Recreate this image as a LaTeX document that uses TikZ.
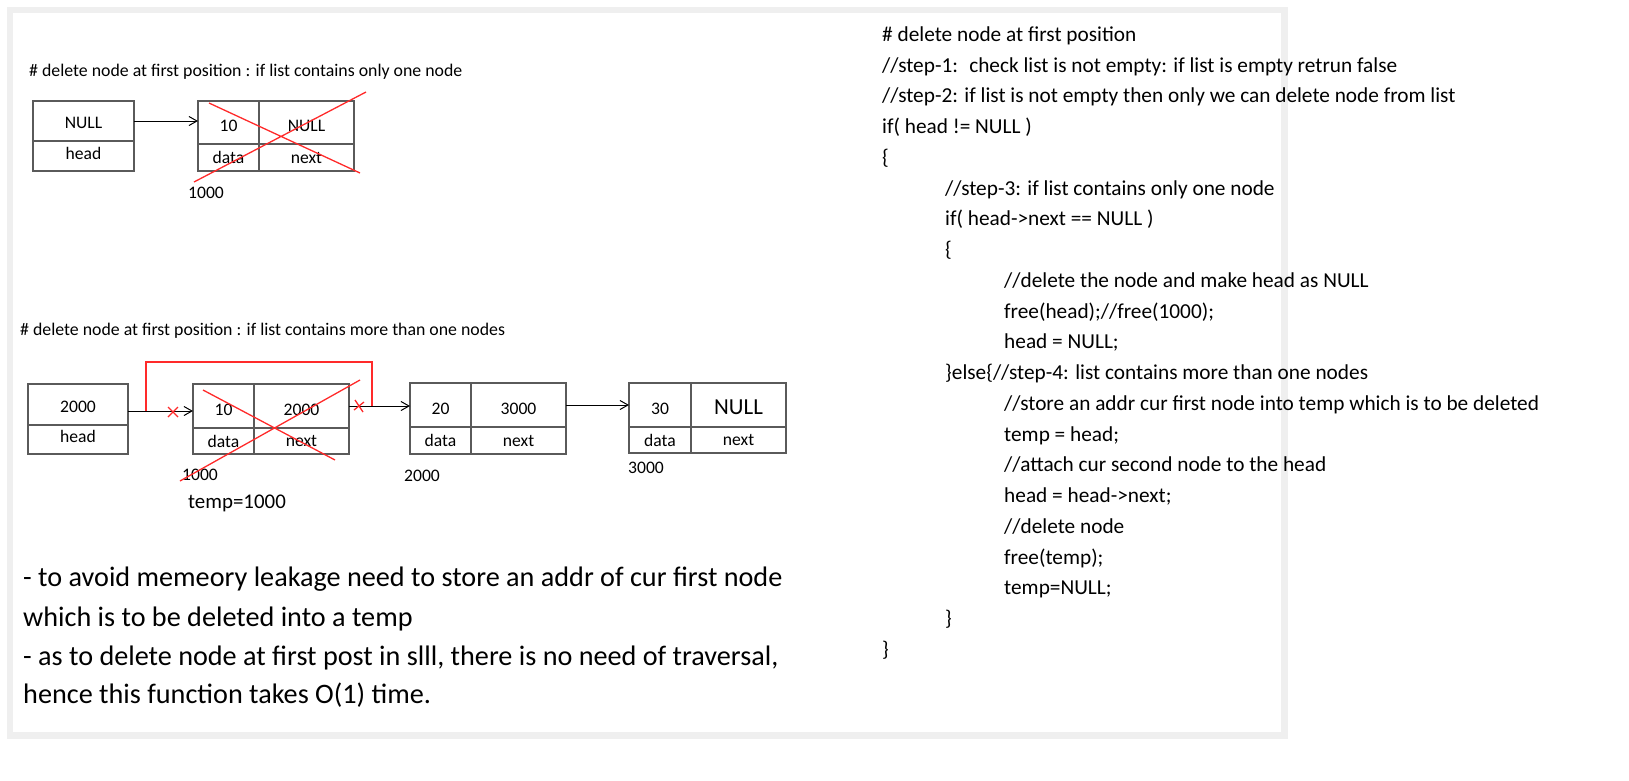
\documentclass[tikz,border=0pt]{standalone}
\usepackage{fontspec}
\setmainfont{Carlito}
\usetikzlibrary{positioning}
\usetikzlibrary{arrows.meta}
\definecolor{framegray}{HTML}{EFEFEF}
\definecolor{boxgray}{HTML}{5A5A5A}
\definecolor{crossred}{HTML}{FF2A2A}

\begin{document}
\begin{tikzpicture}[x=1pt,y=-1pt,
  cell/.style={draw=boxgray,line width=1.3pt,inner sep=0pt,outer sep=0pt,text=black,font=\fontsize{17.6}{20}\selectfont},
  value/.style={text height=18.5pt,text depth=0pt},
  headval/.style={text height=15.5pt,text depth=0pt},
  headlbl/.style={text depth=6pt},
  small/.style={inner sep=0pt,text=black,anchor=base,font=\fontsize{17.6}{20}\selectfont},
  title/.style={inner sep=0pt,text=black,anchor=base west,font=\fontsize{17.8}{20}\selectfont},
  code/.style={inner sep=0pt,text=black,anchor=base west,font=\fontsize{21.3}{24}\selectfont},
  note/.style={inner sep=0pt,text=black,anchor=base west,font=\fontsize{28.2}{32}\selectfont},
  link/.style={black,line width=1pt,-{Straight Barb[length=8pt,width=9pt]}},
  strike/.style={crossred,line width=1.3pt},
  bypass/.style={crossred,line width=2.2pt}]
\useasboundingbox (0,0) rectangle (1629,780);
\draw[framegray,line width=6.5pt] (10,10) rectangle (1284.5,735.5);

% list with one node
\node[title] (title1) at (29,76.7) {\# delete node at first position : if list contains only one node};
\node[cell,headval,minimum width=101pt,minimum height=40pt] (head1) at (83.5,121) {NULL};
\node[cell,headlbl,minimum width=101pt,minimum height=30pt,below=0pt of head1] (hlbl1) {head};
\node[cell,value,minimum width=61pt,minimum height=43pt] (val1) at (228.5,122.5) {10};
\node[cell,value,minimum width=95pt,minimum height=43pt,right=0pt of val1] (nxt1) {NULL};
\node[cell,minimum width=61pt,minimum height=27pt,below=0pt of val1] (dlbl1) {data};
\node[cell,minimum width=95pt,minimum height=27pt,below=0pt of nxt1] (nlbl1) {next};
\node[small] (addr1) at (206,198.6) {1000};
\draw[link] (head1.east) -- (head1.east -| val1.west);
\draw[strike] (209,103) -- (360,173) (194,182) -- (366,92);

% list with more than one node
\node[title] (title2) at (20,335.7) {\# delete node at first position : if list contains more than one nodes};
\node[cell,headval,minimum width=100pt,minimum height=41pt] (head2) at (78,404.5) {2000};
\node[cell,headlbl,minimum width=100pt,minimum height=29pt,below=0pt of head2] (hlbl2) {head};
\node[cell,value,minimum width=61pt,minimum height=44pt] (val2) at (223.5,406) {10};
\node[cell,value,minimum width=95pt,minimum height=44pt,right=0pt of val2] (nxt2) {2000};
\node[cell,minimum width=61pt,minimum height=26pt,below=0pt of val2] (dlbl2) {data};
\node[cell,minimum width=95pt,minimum height=26pt,below=0pt of nxt2] (nlbl2) {next};
\node[cell,value,minimum width=61pt,minimum height=44pt] (val3) at (440.5,405) {20};
\node[cell,value,minimum width=95pt,minimum height=44pt,right=0pt of val3] (nxt3) {3000};
\node[cell,minimum width=61pt,minimum height=27pt,below=0pt of val3] (dlbl3) {data};
\node[cell,minimum width=95pt,minimum height=27pt,below=0pt of nxt3] (nlbl3) {next};
\node[cell,value,minimum width=62pt,minimum height=44pt] (val4) at (660,405) {30};
\node[cell,value,minimum width=95pt,minimum height=44pt,right=0pt of val4,font=\fontsize{22.9}{26}\selectfont] (nxt4) {NULL};
\node[cell,minimum width=62pt,minimum height=26pt,below=0pt of val4] (dlbl4) {data};
\node[cell,minimum width=95pt,minimum height=26pt,below=0pt of nxt4] (nlbl4) {next};
\node[small] (addr2) at (200,480.6) {1000};
\node[small] (addr3) at (422,481.6) {2000};
\node[small] (addr4) at (646,473.6) {3000};
\node[small,font=\fontsize{20.9}{24}\selectfont] (temp) at (237,508.7) {temp=1000};
\draw[link] ([yshift=-6.5pt]head2.east) -- ([yshift=-6.5pt]head2.east -| val2.west);
\draw[link] (nxt2.east) -- (nxt2.east -| val3.west);
\draw[link] (nxt3.east) -- (nxt3.east -| val4.west);
\coordinate (cut1) at ([xshift=18pt,yshift=-6.5pt]head2.east);
\coordinate (cut2) at ([xshift=23pt]nxt2.east);
\draw[bypass] (cut1) -- ++(0,-49) -| (cut2);
\draw[strike] (168,407) -- (178,417) (168,417) -- (178,407);
\draw[strike] (355,400) -- (363,412) (354,410) -- (364,402);
\draw[strike] (203,390) -- (335,460) (180,481) -- (360,380);

% notes
\node[note] (note1) at (23,586) {- to avoid memeory leakage need to store an addr of cur first node};
\node[note] (note2) at (23,626) {which is to be deleted into a temp};
\node[note] (note3) at (23,665) {- as to delete node at first post in slll, there is no need of traversal,};
\node[note] (note4) at (23,703) {hence this function takes O(1) time.};

% code
\node[code] (code0) at (882,41.3) {\# delete node at first position};
\node[code] (code1) at (882,72.1) {//step-1: \ check list is not empty: if list is empty retrun false};
\node[code] (code2) at (882,102.8) {//step-2: if list is not empty then only we can delete node from list};
\node[code] (code3) at (882,133.6) {if( head != NULL )};
\node[code] (code4) at (882,164.3) {\{};
\node[code] (code5) at (945,195.1) {//step-3: if list contains only one node};
\node[code] (code6) at (945,225.8) {if( head->next == NULL )};
\node[code] (code7) at (945,256.6) {\{};
\node[code] (code8) at (1004,287.3) {//delete the node and make head as NULL};
\node[code] (code9) at (1004,318.1) {free(head);//free(1000);};
\node[code] (code10) at (1004,348.8) {head = NULL;};
\node[code] (code11) at (945,379.6) {\}else\{//step-4: list contains more than one nodes};
\node[code] (code12) at (1004,410.3) {//store an addr cur first node into temp which is to be deleted};
\node[code] (code13) at (1004,441.1) {temp = head;};
\node[code] (code14) at (1004,471.8) {//attach cur second node to the head};
\node[code] (code15) at (1004,502.6) {head = head->next;};
\node[code] (code16) at (1004,533.3) {//delete node};
\node[code] (code17) at (1004,564.1) {free(temp);};
\node[code] (code18) at (1004,594.8) {temp=NULL;};
\node[code] (code19) at (945,625.6) {\}};
\node[code] (code20) at (882,656.3) {\}};

\end{tikzpicture}
\end{document}
